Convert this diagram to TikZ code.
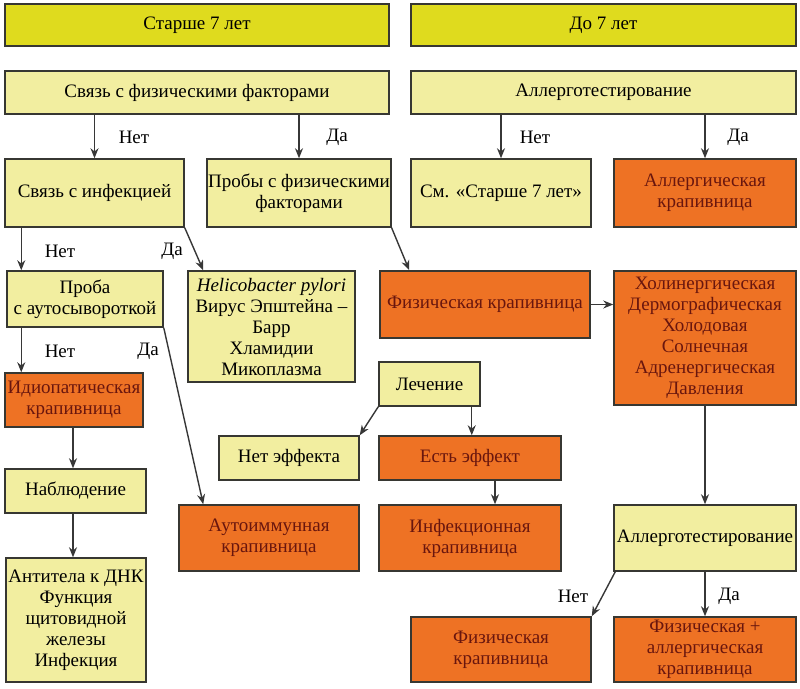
\documentclass[tikz,border=0pt]{standalone}
\usepackage{fontspec}
\setmainfont{Liberation Serif}
\usetikzlibrary{arrows.meta}

\definecolor{titlefill}{RGB}{223,219,30}
\definecolor{palefill}{RGB}{242,238,160}
\definecolor{hotfill}{RGB}{238,114,36}
\definecolor{hottext}{RGB}{105,22,14}
\definecolor{boxline}{RGB}{55,55,50}
\definecolor{arrline}{RGB}{55,55,55}

\begin{document}
\begin{tikzpicture}[x=1pt, y=-1pt,
    box/.style={draw=boxline, line width=1.5pt, inner sep=1pt, align=center,
      font=\fontsize{19}{21}\selectfont},
    titlebox/.style={box, fill=titlefill},
    palebox/.style={box, fill=palefill},
    hotbox/.style={box, fill=hotfill, text=hottext},
    arr/.style={draw=arrline, line width=1.4pt, -{Stealth[length=10pt,width=8pt]}},
    lbl/.style={font=\fontsize{19}{21}\selectfont}]

    % Frame of the page
    \useasboundingbox (0,0) rectangle (800,688);

    % Age groups
    \node[titlebox, minimum width=384, minimum height=42] (older) at (197,25) {Старше 7 лет};
    \node[titlebox, minimum width=385, minimum height=42] (younger) at (603.5,25) {До 7 лет};

    % Second row
    \node[palebox, minimum width=384, minimum height=43] (phys) at (197,92.5) {Связь с физическими факторами};
    \node[palebox, minimum width=385, minimum height=43] (allergyA) at (603.5,92.5) {Аллерготестирование};

    % Third row
    \node[palebox, minimum width=179, minimum height=68] (infect) at (94.5,193) {Связь с инфекцией};
    \node[palebox, minimum width=180, minimum height=68] (phystest) at (299,193) {Пробы с физическими\\факторами};
    \node[palebox, minimum width=180, minimum height=68] (see) at (501,193) {См. «Старше 7 лет»};
    \node[hotbox, minimum width=182, minimum height=68] (allergic) at (705,193) {Аллергическая\\крапивница};

    % Fourth row
    \node[palebox, minimum width=156, minimum height=56] (serum) at (85,299) {Проба\\с аутосывороткой};
    \node[palebox, minimum width=167, minimum height=111] (agents) at (271.5,326.5)
      {\textit{Helicobacter pylori}\\Вирус Эпштейна –\\Барр\\Хламидии\\Микоплазма};
    \node[hotbox, minimum width=210, minimum height=67] (physU) at (485,304.5) {Физическая крапивница};
    \node[hotbox, minimum width=182, minimum height=134] (kinds) at (705,338)
      {Холинергическая\\Дермографическая\\Холодовая\\Солнечная\\Адренергическая\\Давления};

    % Middle part
    \node[hotbox, minimum width=138, minimum height=54] (idio) at (74,400) {Идиопатическая\\крапивница};
    \node[palebox, minimum width=101, minimum height=44] (treat) at (429.5,384) {Лечение};
    \node[palebox, minimum width=140, minimum height=44] (noeffect) at (289,458) {Нет эффекта};
    \node[hotbox, minimum width=182, minimum height=44] (effect) at (470,458) {Есть эффект};
    \node[palebox, minimum width=141, minimum height=44] (watch) at (75.5,491) {Наблюдение};

    % Lower rows
    \node[hotbox, minimum width=180, minimum height=66] (autoimm) at (269,538) {Аутоиммунная\\крапивница};
    \node[hotbox, minimum width=182, minimum height=66] (infectU) at (470,538) {Инфекционная\\крапивница};
    \node[palebox, minimum width=182, minimum height=66] (allergyB) at (705,538) {Аллерготестирование};
    \node[palebox, minimum width=140, minimum height=124] (tests) at (76,620)
      {Антитела к ДНК\\Функция\\щитовидной\\железы\\Инфекция};
    \node[hotbox, minimum width=180, minimum height=65] (physB) at (501,649.5) {Физическая\\крапивница};
    \node[hotbox, minimum width=182, minimum height=65] (mixed) at (705,649.5) {Физическая +\\аллергическая\\крапивница};

    % Arrows from the second row
    \draw[arr] (phys.south -| infect.north) -- (infect.north);
    \draw[arr] (phys.south -| phystest.north) -- (phystest.north);
    \draw[arr] (allergyA.south -| see.north) -- (see.north);
    \draw[arr] (allergyA.south -| allergic.north) -- (allergic.north);

    % Left column
    \draw[arr] ([xshift=17]infect.south west) -- ([xshift=17]infect.south west |- serum.north);
    \draw[arr] (infect.south east) -- ([xshift=16]agents.north west);
    \draw[arr] ([xshift=15]serum.south west) -- ([xshift=15]serum.south west |- idio.north);
    \draw[arr] (serum.south east) -- ([xshift=25]autoimm.north west);
    \draw[arr] ([xshift=-1]idio.south) -- ([xshift=-1]idio.south |- watch.north);
    \draw[arr] ([xshift=-2.5]watch.south) -- ([xshift=-2.5]watch.south |- tests.north);

    % Middle and right
    \draw[arr] (phystest.south east) -- ([xshift=30]physU.north west);
    \draw[arr] (physU.east) -- (physU.east -| kinds.west);
    \draw[arr] (treat.south west) -- (noeffect.north east);
    \draw[arr] ([xshift=-9]treat.south east) -- ([xshift=-9]treat.south east |- effect.north);
    \draw[arr] ([xshift=25]effect.south) -- ([xshift=25]effect.south |- infectU.north);
    \draw[arr] (kinds.south) -- (allergyB.north);
    \draw[arr] ([xshift=2]allergyB.south west) -- (physB.north east);
    \draw[arr] (allergyB.south) -- (mixed.north);

    % Answers
    \node[lbl] (no1) at (134,137) {Нет};
    \node[lbl] (yes1) at (337,137) {Да};
    \node[lbl] (no2) at (535,137) {Нет};
    \node[lbl] (yes2) at (738,137) {Да};
    \node[lbl] (no3) at (60,251) {Нет};
    \node[lbl] (yes3) at (172,251) {Да};
    \node[lbl] (no4) at (60,351) {Нет};
    \node[lbl] (yes4) at (148,351) {Да};
    \node[lbl] (no5) at (573,596) {Нет};
    \node[lbl] (yes5) at (729,596) {Да};

\end{tikzpicture}
\end{document}
